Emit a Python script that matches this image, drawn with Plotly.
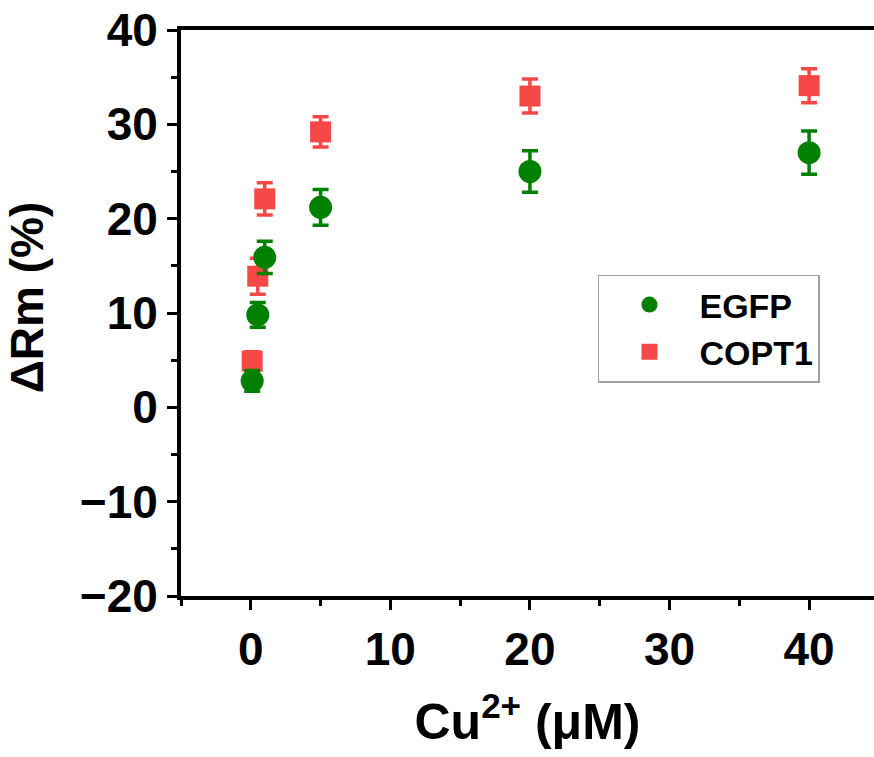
import plotly.graph_objects as go

cu = [0.1, 0.5, 1, 5, 20, 40]
egfp = [2.8, 9.8, 15.9, 21.2, 25.0, 27.0]
egfp_err = [1.1, 1.3, 1.7, 1.9, 2.2, 2.3]
copt1 = [4.9, 13.9, 22.1, 29.2, 33.0, 34.1]
copt1_err = [1.0, 1.9, 1.7, 1.6, 1.8, 1.8]

GREEN = "#008000"
RED = "#F74848"
FONT = "Arial, Liberation Sans, sans-serif"

fig = go.Figure()
fig.add_trace(go.Scatter(
    x=cu, y=copt1, mode="markers", name="COPT1",
    marker=dict(symbol="square", size=21, color=RED),
    error_y=dict(type="data", array=copt1_err, visible=True, color=RED,
                 thickness=3.5, width=8),
))
fig.add_trace(go.Scatter(
    x=cu, y=egfp, mode="markers", name="EGFP",
    marker=dict(symbol="circle", size=23, color=GREEN),
    error_y=dict(type="data", array=egfp_err, visible=True, color=GREEN,
                 thickness=3.5, width=8),
))

tickfont = dict(family=FONT, size=46, color="black", weight="bold")
minor = dict(dtick=5, tick0=0, ticks="outside", ticklen=6, tickwidth=3, tickcolor="black")

fig.update_layout(
    width=874, height=757,
    margin=dict(l=181, r=0, t=30, b=161),
    plot_bgcolor="white", paper_bgcolor="white",
    showlegend=True,
    legend=dict(
        x=0.6017, y=0.568, xanchor="left", yanchor="top",
        traceorder="reversed",
        bordercolor="#A0A0A0", borderwidth=1.5, bgcolor="white",
        font=dict(family=FONT, size=34, color="black", weight="bold"),
        itemwidth=90, tracegroupgap=0,
    ),
    xaxis=dict(
        range=[-5, 44.65], dtick=10, tick0=0, mirror=True,
        showline=True, linecolor="black", linewidth=4,
        ticks="outside", ticklen=10, tickwidth=3, tickcolor="black",
        minor=minor, tickfont=tickfont,
        showgrid=False, zeroline=False, automargin=False,
        title=dict(text="Cu<sup>2+</sup> (μM)", standoff=31,
                   font=dict(family=FONT, size=50, color="black", weight="bold")),
    ),
    yaxis=dict(
        range=[-20, 40], dtick=10, tick0=0,
        showline=True, linecolor="black", linewidth=4,
        ticks="outside", ticklen=10, tickwidth=3, tickcolor="black",
        showgrid=False, zeroline=False, automargin=False,
        minor=minor, tickfont=tickfont,
    ),
    annotations=[dict(
        text="ΔRm (%)", textangle=-90, xref="paper", yref="paper",
        x=-0.222, y=0.528, xanchor="center", yanchor="middle", showarrow=False,
        font=dict(family=FONT, size=46, color="black", weight="bold"),
    )],
)

fig.write_html("out.html", config={"displayModeBar": False},
               post_script="document.body.style.margin='0';")
